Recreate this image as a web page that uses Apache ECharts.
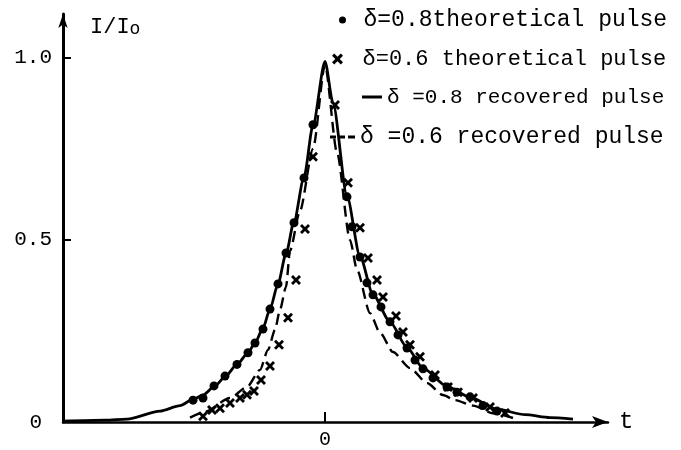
<!DOCTYPE html>
<html>
<head>
    <meta charset="utf-8">
    <title>Pulse recovery</title>
    <style>
        html,
        body,
        #chart {
            margin: 0;
            padding: 0;
            width: 681px;
            height: 450px;
            background: #fff;
            overflow: hidden;
        }
    </style>
</head>
<body>
    <div id="chart"></div>
    <script src="https://cdn.jsdelivr.net/npm/echarts@6/dist/echarts.min.js"></script>
    <script type="text/javascript">
        // series names, as written in the key
        var seriesNames = [
            'δ=0.8theoretical pulse',
            'δ=0.6 theoretical pulse',
            'δ =0.8 recovered pulse',
            'δ =0.6 recovered pulse'
        ];

        // δ=0.8 theoretical points [t, I/Io]
        var dots08 = [
            [-1.32, 0.06], [-1.22, 0.066], [-1.11, 0.099], [-1.00, 0.126], [-0.88, 0.158],
            [-0.77, 0.19], [-0.70, 0.217], [-0.62, 0.255], [-0.55, 0.31], [-0.47, 0.379],
            [-0.39, 0.464], [-0.31, 0.547], [-0.21, 0.67], [-0.12, 0.816],
            [0.22, 0.618], [0.27, 0.536], [0.35, 0.453], [0.42, 0.382], [0.48, 0.349],
            [0.56, 0.316], [0.65, 0.275], [0.73, 0.239], [0.82, 0.203], [0.90, 0.17],
            [0.98, 0.146], [1.08, 0.121], [1.22, 0.096], [1.32, 0.082], [1.45, 0.069],
            [1.58, 0.045], [1.72, 0.03]
        ];

        // δ=0.6 theoretical points
        var crosses06 = [
            [-1.22, 0.016], [-1.13, 0.033], [-1.05, 0.038], [-0.95, 0.052], [-0.85, 0.066],
            [-0.78, 0.075], [-0.71, 0.085], [-0.64, 0.115], [-0.55, 0.154], [-0.46, 0.212],
            [-0.37, 0.286], [-0.29, 0.39], [-0.20, 0.53], [-0.12, 0.728],
            [0.10, 0.87], [0.23, 0.657], [0.35, 0.533], [0.43, 0.45], [0.52, 0.39],
            [0.58, 0.343], [0.71, 0.291], [0.78, 0.247], [0.85, 0.212], [0.95, 0.179],
            [1.10, 0.129], [1.23, 0.096], [1.33, 0.082], [1.48, 0.066], [1.65, 0.041],
            [1.80, 0.025]
        ];

        // δ=0.8 recovered pulse (solid)
        var recovered08 = [
            [-2.62, 0.002], [-2.2, 0.005], [-1.98, 0.008], [-1.65, 0.03], [-1.45, 0.045],
            [-1.32, 0.062], [-1.22, 0.074], [-1.1, 0.099], [-1.0, 0.124], [-0.88, 0.158],
            [-0.77, 0.19], [-0.7, 0.217], [-0.62, 0.258], [-0.55, 0.31], [-0.47, 0.379],
            [-0.39, 0.462], [-0.31, 0.55], [-0.21, 0.672], [-0.12, 0.815], [0, 0.99],
            [0.08, 0.876], [0.22, 0.62], [0.35, 0.455], [0.48, 0.35], [0.65, 0.275],
            [0.82, 0.205], [0.98, 0.148], [1.22, 0.098], [1.45, 0.068], [1.72, 0.035],
            [2.0, 0.02], [2.25, 0.012], [2.48, 0.008]
        ];

        // δ=0.6 recovered pulse (dashed)
        var recovered06 = [
            [-1.35, 0.012], [-1.2, 0.028], [-0.95, 0.066], [-0.78, 0.096], [-0.65, 0.143],
            [-0.57, 0.198], [-0.5, 0.253], [-0.45, 0.308], [-0.39, 0.371], [-0.35, 0.47],
            [-0.25, 0.58], [-0.12, 0.75], [0, 0.98], [0.12, 0.74], [0.25, 0.5],
            [0.32, 0.418], [0.45, 0.299], [0.55, 0.245], [0.68, 0.192], [0.85, 0.148],
            [1.02, 0.107], [1.18, 0.074], [1.3, 0.06], [1.48, 0.045], [1.68, 0.024],
            [1.88, 0.011]
        ];

        // tick labels
        var xTickValues = [0];
        var yTickValues = [0.5, 1];
        var yLabelValues = [0, 0.5, 1];

        var font = 'Liberation Mono';
        var crossPath = 'path://M0,2L2,0L5,3L8,0L10,2L7,5L10,8L8,10L5,7L2,10L0,8L3,5Z';
        // key icons for the two curves: a bar and three short bars
        var solidKey = 'path://M0,0h20v3h-20z';
        var dashKey = 'path://M0,0h6v3h-6zM9,0h6v3h-6zM18,0h7v3h-7z';

        var chart = echarts.init(document.getElementById('chart'));

        chart.setOption({
            animation: false,
            backgroundColor: '#fff',
            grid: {
                left: 63,
                right: 73,
                top: 14,
                bottom: 28,
                containLabel: false,
                outerBoundsMode: 'none'
            },
            // one legend per key line so each can sit where the original does
            legend: [{
                data: [{ name: seriesNames[0], icon: 'circle' }],
                left: 339, top: 8, padding: 0,
                itemWidth: 32, itemHeight: 7,
                selectedMode: false,
                textStyle: { fontFamily: font, fontSize: 23, lineHeight: 24, color: '#000' }
            }, {
                data: [{ name: seriesNames[1], icon: crossPath }],
                left: 332, top: 47, padding: 0,
                itemWidth: 40, itemHeight: 11,
                selectedMode: false,
                textStyle: { fontFamily: font, fontSize: 22, lineHeight: 24, color: '#000' }
            }, {
                data: [{ name: seriesNames[2], icon: solidKey }],
                left: 362, top: 85, padding: 0,
                itemWidth: 20, itemHeight: 3,
                selectedMode: false,
                textStyle: { fontFamily: font, fontSize: 21, lineHeight: 24, color: '#000' }
            }, {
                data: [{ name: seriesNames[3], icon: dashKey }],
                left: 330, top: 125, padding: 0,
                itemWidth: 25, itemHeight: 3,
                selectedMode: false,
                textStyle: { fontFamily: font, fontSize: 23, lineHeight: 24, color: '#000' }
            }],
            xAxis: {
                type: 'value',
                min: -2.62,
                max: 2.83,
                name: 't',
                nameLocation: 'end',
                nameGap: 11,
                nameTextStyle: {
                    fontFamily: font, fontSize: 24, color: '#000',
                    verticalAlign: 'middle', padding: [18, 0, 0, 0]
                },
                axisLine: {
                    onZero: false,
                    lineStyle: { color: '#000', width: 2.5 },
                    symbol: ['none', 'arrow'],
                    symbolSize: [9, 16]
                },
                axisTick: {
                    inside: true,
                    length: 10,
                    customValues: xTickValues,
                    lineStyle: { color: '#000', width: 2 }
                },
                axisLabel: {
                    customValues: xTickValues,
                    margin: 8,
                    fontFamily: font,
                    fontSize: 20,
                    color: '#000'
                },
                splitLine: { show: false }
            },
            yAxis: {
                type: 'value',
                min: 0,
                max: 1.12,
                name: '{a|I/I}{b|o}',
                nameLocation: 'end',
                nameGap: -2,
                nameTextStyle: {
                    align: 'left',
                    verticalAlign: 'top',
                    padding: [0, 0, 0, 27],
                    rich: {
                        a: { fontFamily: font, fontSize: 22, lineHeight: 22, verticalAlign: 'top', color: '#000' },
                        b: { fontFamily: font, fontSize: 18, lineHeight: 18, verticalAlign: 'bottom', padding: [18, 0, 0, 0], color: '#000' }
                    }
                },
                axisLine: {
                    show: true,
                    onZero: false,
                    lineStyle: { color: '#000', width: 3 },
                    symbol: ['none', 'arrow'],
                    symbolSize: [7, 14]
                },
                axisTick: {
                    show: true,
                    inside: true,
                    length: 8,
                    customValues: yTickValues,
                    lineStyle: { color: '#000', width: 2 }
                },
                axisLabel: {
                    customValues: yLabelValues,
                    margin: 11,
                    fontFamily: font,
                    fontSize: 21,
                    color: '#000',
                    formatter: function (v) {
                        return v === 0 ? '{z|0}' : v.toFixed(1);
                    },
                    rich: {
                        z: { fontFamily: font, fontSize: 21, color: '#000', padding: [0, 10, 0, 0] }
                    }
                },
                splitLine: { show: false }
            },
            series: [{
                name: seriesNames[0],
                type: 'scatter',
                data: dots08,
                symbol: 'circle',
                symbolSize: 9,
                itemStyle: { color: '#000', opacity: 1 },
                z: 5
            }, {
                name: seriesNames[1],
                type: 'scatter',
                data: crosses06,
                symbol: crossPath,
                symbolSize: 10,
                symbolKeepAspect: true,
                itemStyle: { color: '#000', opacity: 1 },
                z: 5
            }, {
                name: seriesNames[2],
                type: 'line',
                data: recovered08,
                showSymbol: false,
                symbol: 'none',
                smooth: 0.25,
                smoothMonotone: 'x',
                lineStyle: { color: '#000', width: 2.8 },
                itemStyle: { color: '#000' }
            }, {
                name: seriesNames[3],
                type: 'line',
                data: recovered06,
                showSymbol: false,
                symbol: 'none',
                smooth: 0.25,
                smoothMonotone: 'x',
                lineStyle: { color: '#000', width: 2.4, type: [11, 6] },
                itemStyle: { color: '#000' }
            }]
        });
    </script>
</body>
</html>
